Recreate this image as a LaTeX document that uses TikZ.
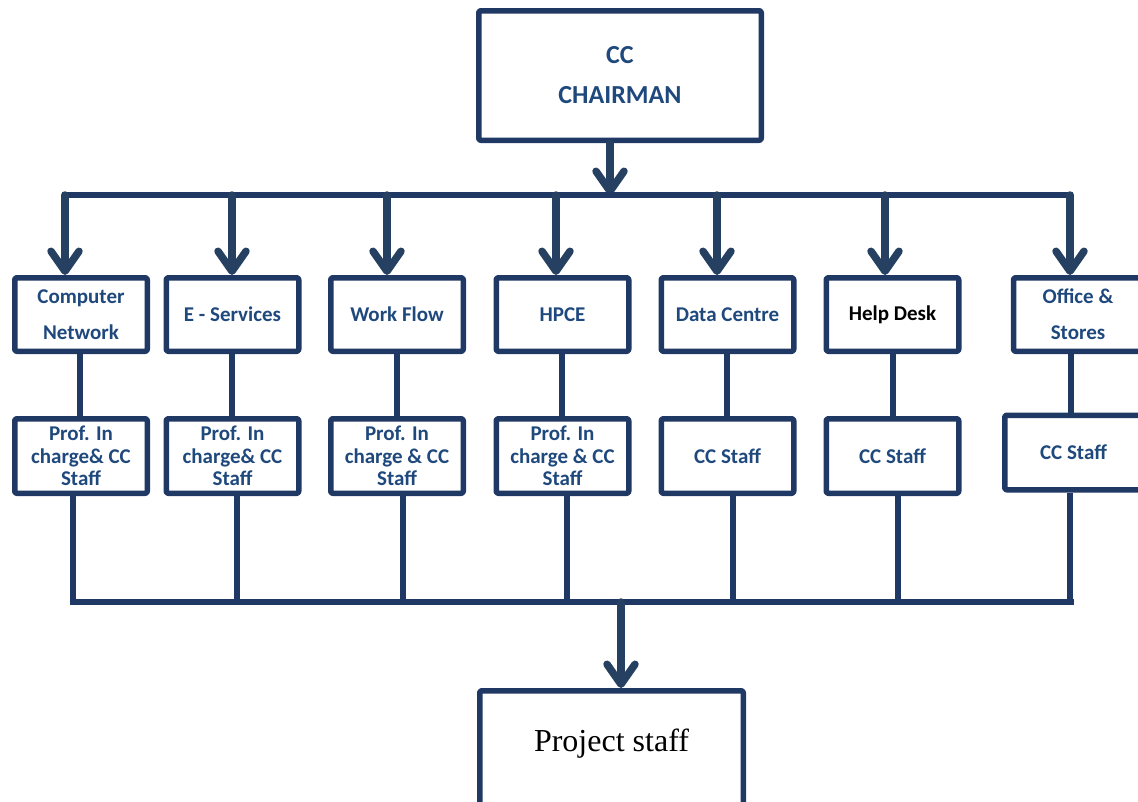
\documentclass[tikz,border=0pt]{standalone}
\usepackage{fontspec}
\setmainfont{Carlito}
\newfontfamily\timesfont{Liberation Serif}
\usetikzlibrary{arrows.meta}
\definecolor{boxblue}{RGB}{31,56,100}
\definecolor{textblue}{RGB}{31,73,125}
\definecolor{arrowblue}{RGB}{38,64,97}
\begin{document}
\begin{tikzpicture}[x=1pt, y=-1pt, line join=round, line cap=round,
	box/.style={draw=boxblue, line width=5.5pt, rounded corners=2pt, fill=white,
		inner sep=0pt, align=center, text=textblue},
	topbox/.style={box, minimum width=132.5pt, minimum height=73.5pt,
		font=\fontsize{21}{36}\selectfont\bfseries},
	lowbox/.style={box, minimum width=132.5pt, minimum height=74.5pt,
		font=\fontsize{21}{22.5}\selectfont\bfseries},
	link/.style={draw=boxblue, line width=5.5pt, line cap=butt},
	arr/.style={draw=arrowblue, line width=7.5pt, -{Straight Barb[length=20pt,width=28pt,round]}}]
	\useasboundingbox (0,0) rectangle (1138,801);
	\clip (0,0) rectangle (1138,801);
	% chairman and project staff
	\node[box, minimum width=282.5pt, minimum height=129.5pt,
		font=\fontsize{26}{40}\selectfont\bfseries] (chair) at (620,75.5) {CC\\CHAIRMAN};
	\node[box, minimum width=263.5pt, minimum height=120pt, text=black,
		font=\timesfont\fontsize{32}{38}\selectfont] (proj) at (611.5,750.75) {\raisebox{21pt}{Project staff}};
	% units
	\foreach \n/\cx/\txt in {1/81/Computer\\Network, 2/232.5/E - Services, 3/397/Work Flow,
		4/562.5/HPCE, 5/727.5/Data Centre, 6/892.5/{\textcolor{black}{Help Desk}}}
		\node[topbox] (u\n) at (\cx,314.5) {\txt};
	\node[topbox, minimum width=129pt] (u7) at (1078,314.5) {Office \&\\Stores};
	% staff
	\foreach \n/\cx/\txt in {1/81/Prof. In\\charge\& CC\\Staff, 2/232.5/Prof. In\\charge\& CC\\Staff,
		3/397/Prof. In\\charge \& CC\\Staff, 4/562.5/Prof. In\\charge \& CC\\Staff,
		5/727.5/CC Staff, 6/892.5/CC Staff}
		\node[lowbox] (l\n) at (\cx,456) {\txt};
	\node[lowbox, minimum width=137.5pt] (l7) at (1073.5,452.5) {CC Staff};
	% top bus with arrows
	\coordinate (hub) at (610,195);
	\draw[arr] (hub |- chair.south) -- (hub);
	\draw[link] (62,195) coordinate (busL) -- (1073,195) coordinate (busR);
	\foreach \n/\ax in {1/65, 2/232, 3/387, 4/556, 5/717, 6/885, 7/1070} {
		\coordinate (t\n) at (\ax,195);
		\draw[arr] (t\n) -- (t\n |- u\n.north);
	}
	% unit to staff
	\foreach \n/\vx in {1/80, 2/232, 3/397, 4/562, 5/727, 6/893, 7/1071} {
		\coordinate (v\n) at (\vx,385);
		\draw[link] (v\n |- u\n.south) -- (v\n |- l\n.north);
	}
	% bottom bus
	\foreach \n/\bx in {1/73, 2/237, 3/403, 4/567, 5/733, 6/898, 7/1070} {
		\coordinate (b\n) at (\bx,602);
		\draw[link] (b\n |- l\n.south) -- (b\n);
	}
	\draw[link] (70.25,602) coordinate (botL) -- (1074,602) coordinate (botR);
	\coordinate (sink) at (621,602);
	\draw[arr] (sink) -- (sink |- proj.north);
\end{tikzpicture}
\end{document}
